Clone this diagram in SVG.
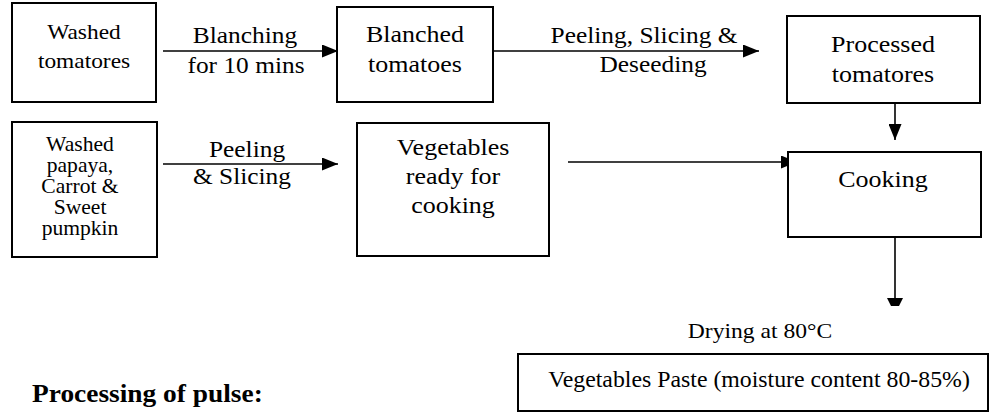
<svg xmlns="http://www.w3.org/2000/svg" width="989" height="415" viewBox="0 0 989 415">
<style>
.box{fill:#fff;stroke:#000;stroke-width:2}
.t{font-family:"Liberation Serif","Times New Roman",serif;font-size:20px;fill:#000;text-anchor:middle}
.h{font-family:"Liberation Serif","Times New Roman",serif;font-size:20px;font-weight:bold;fill:#000}
.c{stroke:#000;stroke-width:1.6;fill:none}
</style>
<defs>
<marker id="ah" markerUnits="userSpaceOnUse" markerWidth="16" markerHeight="13" refX="16" refY="6.5" orient="auto">
<path d="M0,0 L16,6.5 L0,13 z" fill="#000"/>
</marker>
</defs>
<rect width="989" height="415" fill="#fff"/>
<g id="connectors">
<line class="c" x1="163" y1="51" x2="338" y2="51" marker-end="url(#ah)"/>
<line class="c" x1="493" y1="51" x2="759" y2="51" marker-end="url(#ah)"/>
<line class="c" x1="895" y1="103" x2="895" y2="140" marker-end="url(#ah)"/>
<line class="c" x1="163" y1="164" x2="338" y2="164" marker-end="url(#ah)"/>
<line class="c" x1="568" y1="162" x2="797" y2="162" marker-end="url(#ah)"/>
<line class="c" x1="895" y1="237" x2="895" y2="300"/>
<polygon points="887,298 903,298 899,306 891,306" fill="#000"/>
<text class="t" transform="matrix(1.27 0 0 1.15 245 43)">Blanching</text>
<text class="t" transform="matrix(1.27 0 0 1.15 246 73)">for 10 mins</text>
<text class="t" transform="matrix(1.27 0 0 1.15 644 43)">Peeling, Slicing &amp;</text>
<text class="t" transform="matrix(1.27 0 0 1.15 653 72)">Deseeding</text>
<text class="t" transform="matrix(1.27 0 0 1.15 247 157)">Peeling</text>
<text class="t" transform="matrix(1.27 0 0 1.15 242 184)">&amp; Slicing</text>
<text class="t" transform="matrix(1.18 0 0 1.1 760 338)">Drying at 80°C</text>
</g>
<g id="washed-tomatores">
<rect class="box" x="12" y="3" width="144" height="99"/>
<text class="t" transform="matrix(1.17 0 0 1.08 84 39)">Washed</text>
<text class="t" transform="matrix(1.17 0 0 1.08 84 68)">tomatores</text>
</g>
<g id="blanched-tomatoes">
<rect class="box" x="337" y="7" width="156" height="95"/>
<text class="t" transform="matrix(1.3 0 0 1.2 415 42)">Blanched</text>
<text class="t" transform="matrix(1.3 0 0 1.2 415 72)">tomatoes</text>
</g>
<g id="processed-tomatores">
<rect class="box" x="787" y="16" width="193" height="87"/>
<text class="t" transform="matrix(1.3 0 0 1.2 883 52)">Processed</text>
<text class="t" transform="matrix(1.3 0 0 1.2 883 82)">tomatores</text>
</g>
<g id="washed-papaya">
<rect class="box" x="12" y="122" width="145" height="135"/>
<text class="t" transform="matrix(1.08 0 0 1 80 151)">Washed</text>
<text class="t" transform="matrix(1.08 0 0 1 80 172)">papaya,</text>
<text class="t" transform="matrix(1.08 0 0 1 80 193)">Carrot &amp;</text>
<text class="t" transform="matrix(1.08 0 0 1 80 214)">Sweet</text>
<text class="t" transform="matrix(1.08 0 0 1 80 235)">pumpkin</text>
</g>
<g id="vegetables-ready">
<rect class="box" x="357" y="123" width="192" height="133"/>
<text class="t" transform="matrix(1.3 0 0 1.2 453 155)">Vegetables</text>
<text class="t" transform="matrix(1.3 0 0 1.2 453 184)">ready for</text>
<text class="t" transform="matrix(1.3 0 0 1.2 453 213)">cooking</text>
</g>
<g id="cooking">
<rect class="box" x="788" y="152" width="193" height="85"/>
<text class="t" transform="matrix(1.3 0 0 1.2 883 187)">Cooking</text>
</g>
<g id="vegetables-paste">
<rect class="box" x="518" y="354" width="470" height="57"/>
<text class="t" transform="matrix(1.19 0 0 1.12 759 387)">Vegetables Paste (moisture content 80-85%)</text>
</g>
<g id="heading">
<text class="h" transform="matrix(1.37 0 0 1.22 32 402)">Processing of pulse:</text>
</g>
</svg>
